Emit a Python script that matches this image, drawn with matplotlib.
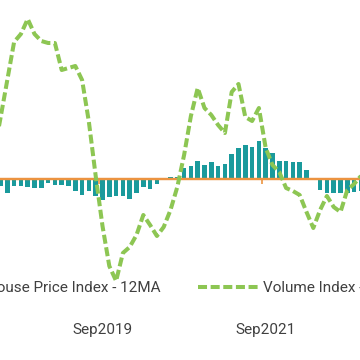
import matplotlib
matplotlib.use("Agg")
import matplotlib.pyplot as plt
from matplotlib.patches import Patch
from matplotlib.lines import Line2D
import numpy as np

plt.rcParams['font.family'] = ['Roboto', 'DejaVu Sans']
plt.rcParams['lines.scale_dashes'] = False

# month offsets relative to Sep2019 (0) ... Sep2021 (24)
months = list(range(-16, 39))

house_price_12ma = [
    -0.8, -0.74, -1.4, -0.74, -0.67, -0.84, -0.9, -0.9, -0.4, -0.64,
    -0.64, -0.67, -1.24, -1.57, -1.24, -1.74, -2.07, -1.8, -1.74, -1.74,
    -2.0, -1.4, -0.77, -1.0, -0.5, 0.03, 0.2, 0.2, 1.07, 1.35,
    1.83, 1.37, 1.67, 1.33, 1.47, 2.5, 3.07, 3.4, 3.25, 3.8,
    3.07, 2.63, 1.83, 1.83, 1.67, 1.67, 0.9, 0.02, -1.1, -1.35,
    -1.35, -1.4, -1.4, -1.25, -1.2,
]

volume_12ma = [
    2.4, 6.1, 9.9, 13.7, 14.5, 16.0, 14.5, 13.8, 13.6, 13.6,
    10.9, 11.1, 11.3, 9.9, 5.7, 0.3, -4.7, -8.7, -10.2, -7.4,
    -6.8, -5.6, -3.6, -4.6, -5.7, -4.8, -3.1, -0.8, 2.4, 6.3,
    9.1, 7.1, 6.4, 5.4, 4.6, 8.7, 9.5, 6.2, 5.8, 7.1,
    3.1, 1.4, 0.7, -0.9, -1.2, -1.6, -3.3, -4.9, -3.1, -1.7,
    -2.8, -3.3, -1.1, -0.5, 0.3,
]

tick_positions = [0, 24]
tick_labels = ["Sep2019", "Sep2021"]
series_names = ["House Price Index - 12MA", "Volume Index - 12MA"]

bar_color = '#1A9A9C'
line_color = '#8DC653'
axis_color = '#EC9340'
text_color = '#404040'

fig = plt.figure(figsize=(3.6, 3.6), dpi=100)
ax = fig.add_axes([0, 0, 1, 1])
ax.set_xlim(-102.5 / 6.8, (360 - 102.5) / 6.8)
ax.set_ylim(-18.1, 17.9)

ax.bar(months, house_price_12ma, width=0.7, color=bar_color, zorder=2)
ax.axhline(0, color=axis_color, lw=1.6, zorder=3)
ax.plot(months, volume_12ma, color=line_color, lw=2.9,
        linestyle=(0, (6.5, 2.6)), zorder=4)

for s in ['top', 'right', 'left']:
    ax.spines[s].set_visible(False)
ax.spines['bottom'].set_position(('data', 0))
ax.spines['bottom'].set_color(axis_color)
ax.spines['bottom'].set_linewidth(1.6)
ax.set_xticks([p - 0.5 for p in tick_positions])
ax.tick_params(axis='x', direction='out', length=3.6, width=1.2,
               color=axis_color, labelbottom=False)
ax.set_yticks([])
ax.patch.set_visible(False)

for p, lab in zip(tick_positions, tick_labels):
    ax.text(p, -15.1, lab, ha='center', va='center', fontsize=11,
            color=text_color)

handles = [Patch(facecolor=bar_color),
           Line2D([0], [0], color=line_color, lw=2.9, linestyle=(0, (6.5, 2.6)))]
leg = fig.legend(handles, series_names, ncol=2, frameon=False,
                 loc='center left', bbox_to_anchor=(0.0, 72 / 360),
                 bbox_transform=fig.transFigure, fontsize=11,
                 handlelength=3.93, handletextpad=0.33, columnspacing=2.42,
                 labelcolor=text_color)
fig.canvas.draw()
r = fig.canvas.get_renderer()
x1 = leg.get_texts()[0].get_window_extent(r).x1
shift = (161 - x1) / 360
leg.set_bbox_to_anchor((shift, 72 / 360), transform=fig.transFigure)

fig.savefig('out.png', dpi=100)
